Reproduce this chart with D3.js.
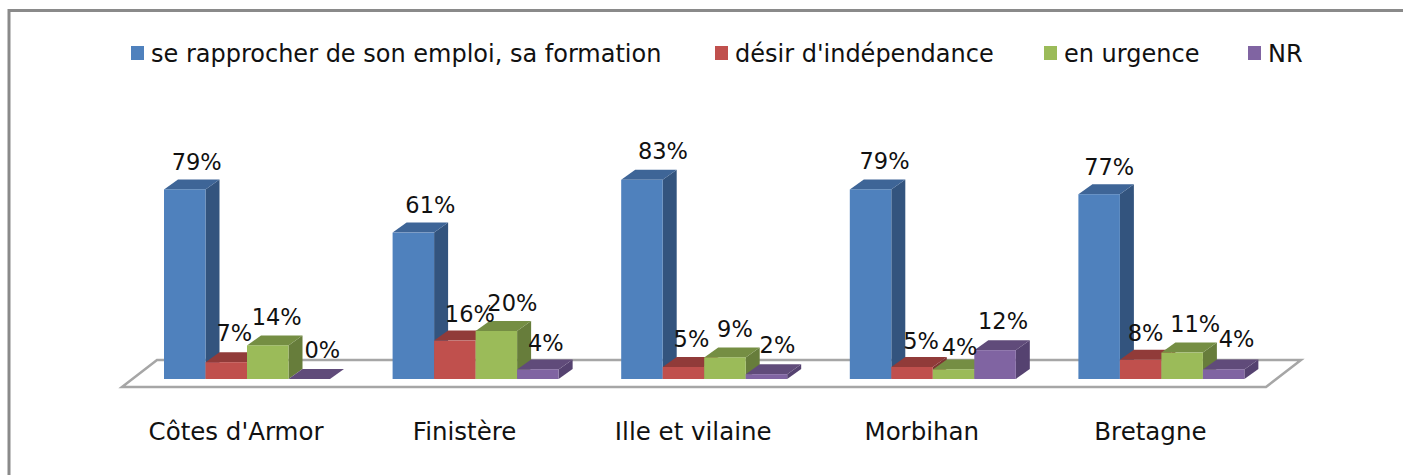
<!DOCTYPE html>
<html>
<head>
<meta charset="utf-8">
<script src="https://cdn.jsdelivr.net/npm/d3@7"></script>
<style>
html, body { margin: 0; padding: 0; background: #fff; overflow: hidden; }
svg { display: block; }
text { font-family: "DejaVu Sans", sans-serif; fill: #111; }
</style>
</head>
<body>
<div id="chart"></div>
<script>
// values
var categories = ["Côtes d'Armor", "Finistère", "Ille et vilaine", "Morbihan", "Bretagne"];
var seriesNames = ["se rapprocher de son emploi, sa formation", "désir d'indépendance", "en urgence", "NR"];
var emploi = [79, 61, 83, 79, 77];
var independance = [7, 16, 5, 5, 8];
var urgence = [14, 20, 9, 4, 11];
var nr = [0, 4, 2, 12, 4];
var seriesValues = [emploi, independance, urgence, nr];

var frontColors = ["#4f81bd", "#c0504d", "#9bbb59", "#8064a2"];
var topColors = ["#3e6597", "#913b39", "#758e43", "#604b7a"];
var sideColors = ["#33547e", "#7e3533", "#677d3b", "#554270"];

// the labels were dragged by hand in the original, [dx, dy] from the bar top, one row per series
var labelShift = [
    [[12, -19], [17, -20], [21, -21], [14, -20], [10, -19]],
    [[8, -21], [15, -19], [8, -20], [9, -18], [5, -19]],
    [[9, -20], [16, -20], [10, -20], [6, -14], [13, -21]],
    [[13, -21], [8, -18], [11, -21], [8, -21], [13, -22]]
];

var width = 1403, height = 475;
var depthX = 14, depthY = 10;

var svg = d3.select("#chart").append("svg")
    .attr("width", width)
    .attr("height", height);

// frame
svg.append("path")
    .attr("d", "M9,475V10.5H1403")
    .attr("fill", "none")
    .attr("stroke", "#8a8a8a")
    .attr("stroke-width", 3);

var x = d3.scaleBand()
    .domain(categories)
    .range([132.7, 1275.7])
    .padding(0);

var groupWidth = 166;
var x1 = d3.scaleBand()
    .domain(d3.range(4))
    .range([0, groupWidth]);

var y = d3.scaleLinear()
    .domain([0, 100])
    .range([379, 139]);

function groupLeft(c) {
    return x(c) + (x.bandwidth() - groupWidth) / 2;
}

// floor
var floor = [[122, 387], [1266, 387], [1301, 360], [157, 360]];
svg.append("path")
    .attr("d", d3.line()(floor) + "Z")
    .attr("fill", "#fff")
    .attr("stroke", "#a6a6a6")
    .attr("stroke-width", 2.5);

// bars
categories.forEach(function (c, i) {
    var g = svg.append("g")
        .attr("class", "group")
        .attr("transform", "translate(" + groupLeft(c) + ",0)");

    seriesValues.forEach(function (values, s) {
        var left = x1(s), right = left + x1.bandwidth();
        var top = y(values[i]), base = y(0);

        g.append("path")
            .attr("d", d3.line()([[right, top], [right + depthX, top - depthY], [right + depthX, base - depthY], [right, base]]) + "Z")
            .attr("fill", sideColors[s]);
        g.append("path")
            .attr("d", d3.line()([[left, top], [left + depthX, top - depthY], [right + depthX, top - depthY], [right, top]]) + "Z")
            .attr("fill", topColors[s]);
        g.append("rect")
            .attr("x", left)
            .attr("y", top)
            .attr("width", x1.bandwidth())
            .attr("height", base - top)
            .attr("fill", frontColors[s]);
    });
});

// value labels go over every bar
categories.forEach(function (c, i) {
    seriesValues.forEach(function (values, s) {
        svg.append("text")
            .attr("x", groupLeft(c) + x1(s) + x1.bandwidth() / 2 + labelShift[s][i][0])
            .attr("y", y(values[i]) + labelShift[s][i][1])
            .attr("text-anchor", "middle")
            .attr("font-size", "22.5px")
            .text(values[i] + "%");
    });
});

// category labels
var axis = svg.append("g")
    .attr("transform", "translate(-11,423)")
    .call(d3.axisBottom(x).tickSize(0).tickPadding(0));
axis.select(".domain").remove();
axis.selectAll("text")
    .attr("font-family", null)
    .style("font-size", "24.5px")
    .attr("dy", "0.71em")
    .attr("y", 0);

// legend
var legendX = [131, 715, 1044, 1248];
var legend = svg.selectAll(".legendItem")
    .data(seriesNames)
    .enter()
    .append("g")
    .attr("class", "legendItem")
    .attr("transform", function (d, i) {
        return "translate(" + legendX[i] + ",46)";
    });

legend.append("rect")
    .attr("width", 13)
    .attr("height", 14)
    .attr("fill", function (d, i) { return frontColors[i]; });

legend.append("text")
    .attr("x", 20)
    .attr("y", 16)
    .attr("font-size", "24px")
    .text(function (d) { return d; });
</script>
</body>
</html>
